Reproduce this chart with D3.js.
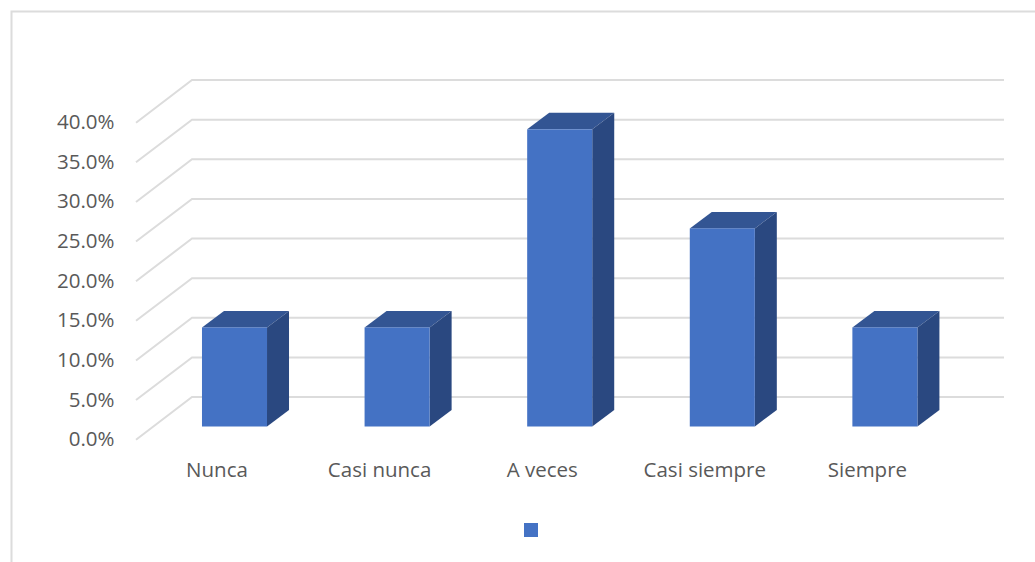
<!DOCTYPE html>
<html><head><meta charset="utf-8">
<script src="https://cdn.jsdelivr.net/npm/d3@7"></script>
<style>html,body{margin:0;background:#fff}svg{display:block}text{font-family:"Open Sans",sans-serif;fill:#595959}</style>
</head><body><svg id="c" width="1035" height="562"></svg>
<script>
const categories=["Nunca","Casi nunca","A veces","Casi siempre","Siempre"];
const values=[12.5,12.5,37.5,25,12.5];
const yTicks=[0,5,10,15,20,25,30,35,40];
const svg=d3.select("#c");
const y=d3.scaleLinear().domain([0,40]).range([0,-317]);
const x=d3.scaleBand().domain(categories).range([153.2,966.2]).paddingInner(.6).paddingOuter(.3);
const fmt=d=>d.toFixed(1)+"%";
// frame
svg.append("path").attr("d","M11.5,562V11.5H1035").attr("fill","none").attr("stroke","#dcdcdc").attr("stroke-width",2);
// grid
const g=svg.append("g").attr("fill","none").attr("stroke","#dcdcdc").attr("stroke-width",2);
yTicks.forEach(t=>{const b=397+y(t);
 g.append("path").attr("d",`M136,${b+42.7}L192,${b}H1004`);});
// tick labels
svg.append("g").selectAll("text").data(yTicks).join("text").attr("x",114.5).attr("y",d=>439.7+y(d)+6.5).attr("text-anchor","end").attr("font-size",20.5).text(fmt);
// bars
const base=426.5,dx=22,dy=16.5;
const bars=svg.append("g").selectAll("g").data(categories).join("g");
bars.each(function(c,i){
 const s=d3.select(this),x0=x(c),w=x.bandwidth(),top=base+y(values[i]);
 s.append("path").attr("fill","#335593").attr("d",`M${x0},${top}l${dx},${-dy}h${w}l${-dx},${dy}z`);
 s.append("path").attr("fill","#2a4880").attr("d",`M${x0+w},${top}l${dx},${-dy}V${base-dy}l${-dx},${dy}z`);
 s.append("rect").attr("x",x0).attr("y",top).attr("width",w).attr("height",base-top).attr("fill","#4472c4");
});
// category labels
svg.append("g").selectAll("text").data(categories).join("text").attr("x",c=>x(c)+x.bandwidth()/2-17.5).attr("y",477).attr("text-anchor","middle").attr("font-size",20.5).text(d=>d);
// legend
svg.append("rect").attr("x",524).attr("y",523).attr("width",14).attr("height",14).attr("fill","#4472c4");
</script></body></html>
